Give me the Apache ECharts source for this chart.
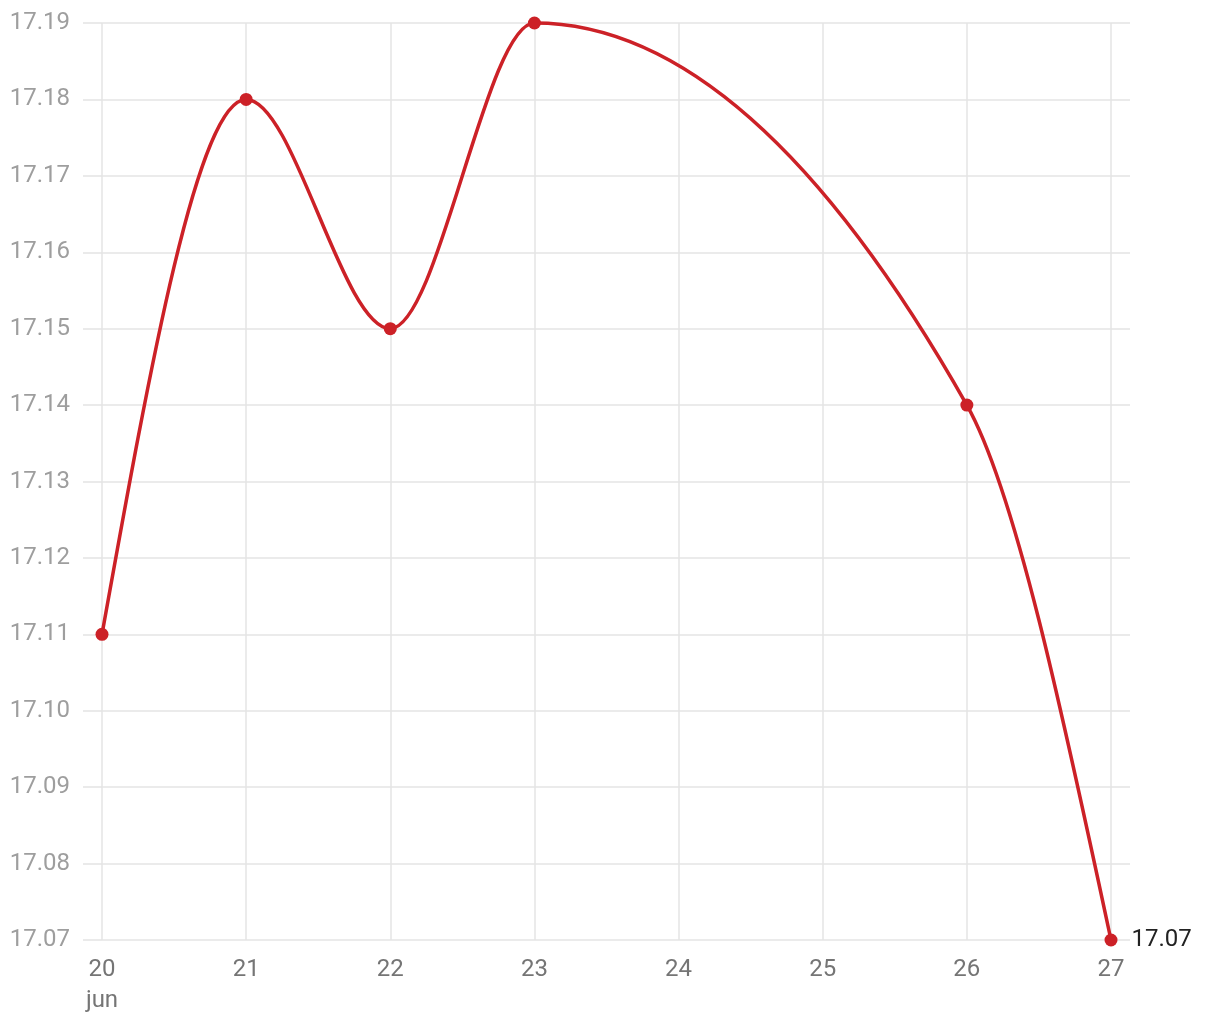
<!DOCTYPE html>
<html>
<head>
<meta charset="utf-8">
<style>html,body{margin:0;padding:0;background:#fff}#chart{width:1220px;height:1020px}</style>
<script src="https://cdn.jsdelivr.net/npm/echarts@6/dist/echarts.min.js"></script>
</head>
<body>
<div id="chart"></div>
<script>
const days = [20, 21, 22, 23, 26, 27];
const values = [17.11, 17.18, 17.15, 17.19, 17.14, 17.07];
const monthLabel = 'jun';
const yTicks = { min: 17.07, max: 17.19, interval: 0.01 };

const lineColor = '#cc2127';
const gridColor = '#e4e4e4';
const fontFamily = 'Roboto';

// Monotone-X cubic tangents (same scheme as d3.curveMonotoneX), computed in pixel space
function sign(v) { return v < 0 ? -1 : 1; }
function tangents(pts) {
  const n = pts.length, m = new Array(n).fill(0);
  for (let i = 1; i < n - 1; i++) {
    const h0 = pts[i][0] - pts[i - 1][0], h1 = pts[i + 1][0] - pts[i][0];
    const s0 = (pts[i][1] - pts[i - 1][1]) / h0, s1 = (pts[i + 1][1] - pts[i][1]) / h1;
    const p = (s0 * h1 + s1 * h0) / (h0 + h1);
    m[i] = (sign(s0) + sign(s1)) * Math.min(Math.abs(s0), Math.abs(s1), 0.5 * Math.abs(p)) || 0;
  }
  const hA = pts[1][0] - pts[0][0];
  m[0] = (3 * (pts[1][1] - pts[0][1]) / hA - m[1]) / 2;
  const hB = pts[n - 1][0] - pts[n - 2][0];
  m[n - 1] = (3 * (pts[n - 1][1] - pts[n - 2][1]) / hB - m[n - 2]) / 2;
  return m;
}

const pointData = days.map((d, i) => {
  const item = { value: [d, values[i]] };
  if (i === days.length - 1) {
    item.label = { show: true, position: 'right', distance: 14, color: '#222', fontSize: 24, fontFamily: fontFamily,
      formatter: (p) => p.value[1].toFixed(2) };
  }
  return item;
});

const chart = echarts.init(document.getElementById('chart'));
chart.setOption({
  animation: false,
  grid: { left: 102, right: 109, top: 23, bottom: 80, containLabel: false },
  xAxis: {
    type: 'value', min: 20, max: 27, interval: 1,
    axisLine: { show: false }, axisTick: { show: false },
    splitLine: { show: true, lineStyle: { color: gridColor, width: 1.5 } },
    axisLabel: {
      margin: 14, color: '#757575', fontSize: 24, fontFamily: fontFamily, lineHeight: 31,
      formatter: (v) => v === days[0] ? v + '\n' + monthLabel : String(v)
    }
  },
  yAxis: [{
    type: 'value', min: yTicks.min, max: yTicks.max, interval: yTicks.interval,
    axisLine: { show: false },
    axisTick: { show: true, length: 19, lineStyle: { color: gridColor, width: 1.5 } },
    splitLine: { show: true, lineStyle: { color: gridColor, width: 1.5 } },
    axisLabel: { margin: 32, color: '#9e9e9e', fontSize: 24, fontFamily: fontFamily, formatter: (v) => v.toFixed(2) }
  }, {
    type: 'value', position: 'right', min: yTicks.min, max: yTicks.max, interval: yTicks.interval,
    axisLine: { show: false },
    axisTick: { show: true, length: 19, lineStyle: { color: gridColor, width: 1.5 } },
    splitLine: { show: false },
    axisLabel: { show: false }
  }],
  series: [{
    type: 'custom',
    data: days.map((d, i) => [d, values[i]]),
    encode: { x: 0, y: 1 },
    z: 2,
    renderItem: function (params, api) {
      const i = params.dataIndex;
      if (i === 0) return null;
      const pts = days.map((d, j) => api.coord([d, values[j]]));
      const m = tangents(pts);
      const a = pts[i - 1], b = pts[i];
      const dx = (b[0] - a[0]) / 3;
      return {
        type: 'bezierCurve',
        shape: { x1: a[0], y1: a[1], cpx1: a[0] + dx, cpy1: a[1] + dx * m[i - 1],
                 cpx2: b[0] - dx, cpy2: b[1] - dx * m[i], x2: b[0], y2: b[1] },
        style: { stroke: lineColor, lineWidth: 3.5, fill: null, lineCap: 'round' }
      };
    }
  }, {
    type: 'line', data: pointData, z: 3,
    symbol: 'circle', symbolSize: 13,
    lineStyle: { opacity: 0, width: 0 },
    itemStyle: { color: lineColor }
  }]
});
</script>
</body>
</html>
